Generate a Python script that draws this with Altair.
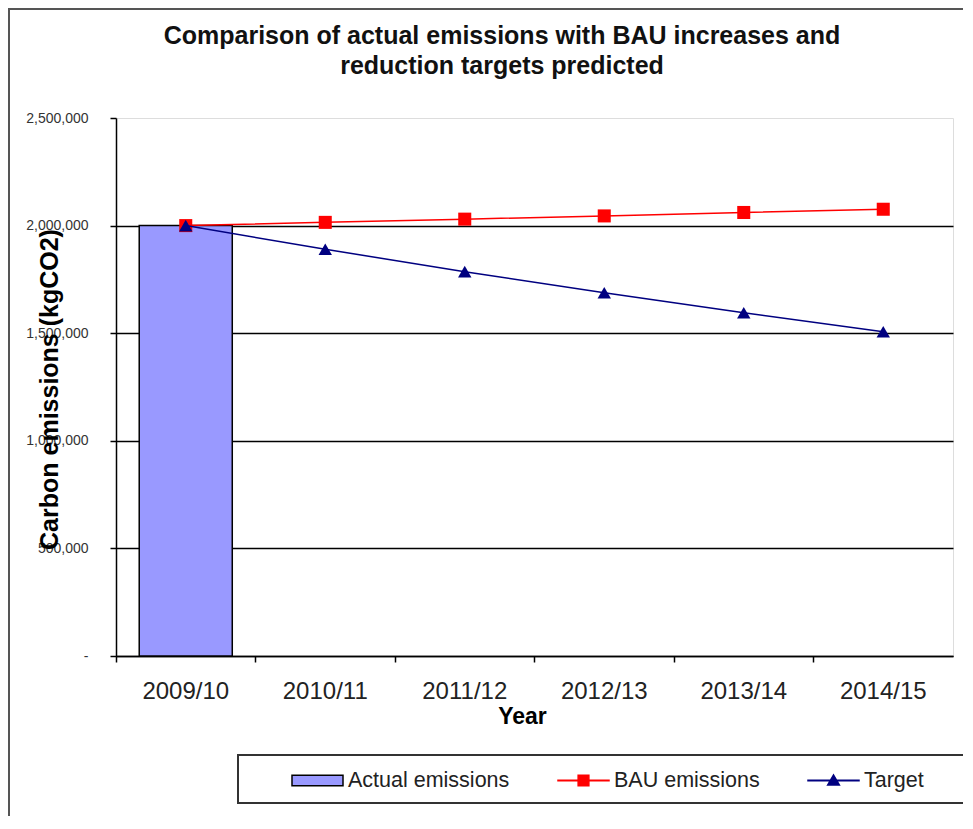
import altair as alt
import pandas as pd

# ---- data ----
years = ["2009/10", "2010/11", "2011/12", "2012/13", "2013/14", "2014/15"]
actual = [2000000, None, None, None, None, None]
bau = [2000000, 2015000, 2030000, 2045000, 2061000, 2076000]
target = [2000000, 1890000, 1786000, 1688000, 1595000, 1507000]
series_names = ["Actual emissions", "BAU emissions", "Target"]
fill_colors = ["#9999FF", "#FF0000", "#000080"]
stroke_colors = ["#000000", "#FF0000", "#000080"]
y_ticks = [0, 500000, 1000000, 1500000, 2000000, 2500000]
title_lines = ["Comparison of actual emissions with BAU increases and",
               "reduction targets predicted"]

# legend symbols (custom svg paths: swatch, line+square, line+triangle)
legend_shapes = [
    "M-1,-0.21H1V0.21H-1Z",
    "M-1,-0.006H1V0.006H-1Z M-0.21,-0.21H0.21V0.21H-0.21Z",
    "M-1,-0.006H1V0.006H-1Z M-0.23,0.18L0,-0.22L0.23,0.18Z",
]

rows = []
for i, yr in enumerate(years):
    if actual[i] is not None:
        rows.append({"year": yr, "series": series_names[0], "value": actual[i]})
    rows.append({"year": yr, "series": series_names[1], "value": bau[i]})
    rows.append({"year": yr, "series": series_names[2], "value": target[i]})
df = pd.DataFrame(rows)

FONT = "Liberation Sans"

X = alt.X(
    "year:N",
    sort=years,
    scale=alt.Scale(domain=years, paddingInner=0, paddingOuter=0),
    axis=alt.Axis(
        title="Year",
        bandPosition=0,
        labelAngle=0,
        labelFont=FONT,
        labelFontSize=24,
        labelColor="#222222",
        labelPadding=17,
        tickSize=6,
        tickColor="black",
        tickWidth=1.5,
        domainColor="black",
        domainWidth=1.5,
        grid=False,
        titleFont=FONT,
        titleFontSize=23,
        titleFontWeight="bold",
        titleColor="black",
        titleX=406,
        titleY=60,
        titleAlign="center",
        titleBaseline="middle",
    ),
)

Y = alt.Y(
    "value:Q",
    scale=alt.Scale(domain=[0, 2500000], nice=False),
    axis=alt.Axis(
        values=y_ticks,
        title="Carbon emissions (kgCO2)",
        labelExpr="datum.value == 0 ? '-' : format(datum.value, ',')",
        labelFont=FONT,
        labelFontSize=14,
        labelColor="#333333",
        labelPadding=22,
        tickSize=6,
        tickColor="black",
        tickWidth=1.5,
        domainColor="black",
        domainWidth=1.5,
        grid=True,
        gridColor={"condition": {"test": "datum.value >= 2500000", "value": "transparent"},
                   "value": "black"},
        gridWidth=1.5,
        titleFont=FONT,
        titleFontSize=25,
        titleFontWeight="bold",
        titleColor="black",
        titleAngle=270,
        titleX=-67,
        titleY=271,
        titleAlign="center",
        titleBaseline="middle",
    ),
)

base = alt.Chart(df)

bars = base.transform_filter(alt.datum.series == series_names[0]).mark_bar(
    color=fill_colors[0], stroke="black", strokeWidth=1.5,
    width=alt.RelativeBandSize(0.667),
).encode(x=X, y=Y)

bau_line = base.transform_filter(alt.datum.series == series_names[1]).mark_line(
    color=fill_colors[1], strokeWidth=1.5
).encode(x=X, y=Y)
bau_pts = base.transform_filter(alt.datum.series == series_names[1]).mark_point(
    shape="square", filled=True, size=170, color=fill_colors[1], opacity=1
).encode(x=X, y=Y)

tgt_line = base.transform_filter(alt.datum.series == series_names[2]).mark_line(
    color=fill_colors[2], strokeWidth=1.5
).encode(x=X, y=Y)
tgt_pts = base.transform_filter(alt.datum.series == series_names[2]).mark_point(
    shape="triangle-up", filled=True, size=180, color=fill_colors[2], opacity=1
).encode(x=X, y=Y)

leg = alt.Legend(
    title=None, orient="none", legendX=175, legendY=636, direction="horizontal",
    labelFont=FONT, labelFontSize=21.5, labelColor="#222222", labelLimit=400,
    symbolSize=2601, symbolStrokeWidth=1.5, labelOffset=4,
    columnPadding=45, padding=0,
)
legend_layer = base.transform_filter("false").mark_point(
    filled=True, opacity=1, strokeWidth=1.5
).encode(
    fill=alt.Fill("series:N", scale=alt.Scale(domain=series_names, range=fill_colors), legend=leg),
    stroke=alt.Stroke("series:N", scale=alt.Scale(domain=series_names, range=stroke_colors), legend=leg),
    shape=alt.Shape("series:N", scale=alt.Scale(domain=series_names, range=legend_shapes), legend=leg),
)

frame_df = pd.DataFrame({"k": [0]})
outer_frame = alt.Chart(frame_df).mark_rect(
    fill="transparent", stroke="#555555", strokeWidth=2
).encode(x=alt.value(-107), x2=alt.value(900), y=alt.value(-109), y2=alt.value(760))
legend_box = alt.Chart(frame_df).mark_rect(
    fill="transparent", stroke="#333333", strokeWidth=2
).encode(x=alt.value(122), x2=alt.value(900), y=alt.value(637), y2=alt.value(685))

title_df = pd.DataFrame({"line": title_lines, "row": [0, 1]})
title_text = alt.Chart(title_df).mark_text(
    font=FONT, fontSize=25, fontWeight="bold", color="#111111",
    align="center", baseline="middle",
).encode(
    text="line:N",
    x=alt.value(386),
    y=alt.YValue(alt.expr("datum.row == 0 ? -82 : -52")) if hasattr(alt, "YValue") else alt.value(-82),
)

chart = alt.layer(
    outer_frame, legend_box, title_text, bars, bau_line, bau_pts, tgt_line, tgt_pts, legend_layer
).properties(
    width=837,
    height=538,
    padding={"left": 108, "top": 110, "right": 10, "bottom": 160},
    autosize=alt.AutoSizeParams(type="none"),
).configure_view(stroke="transparent", strokeWidth=0).configure(background="white")

chart.save("out.html", embed_options={"renderer": "svg", "actions": False})
